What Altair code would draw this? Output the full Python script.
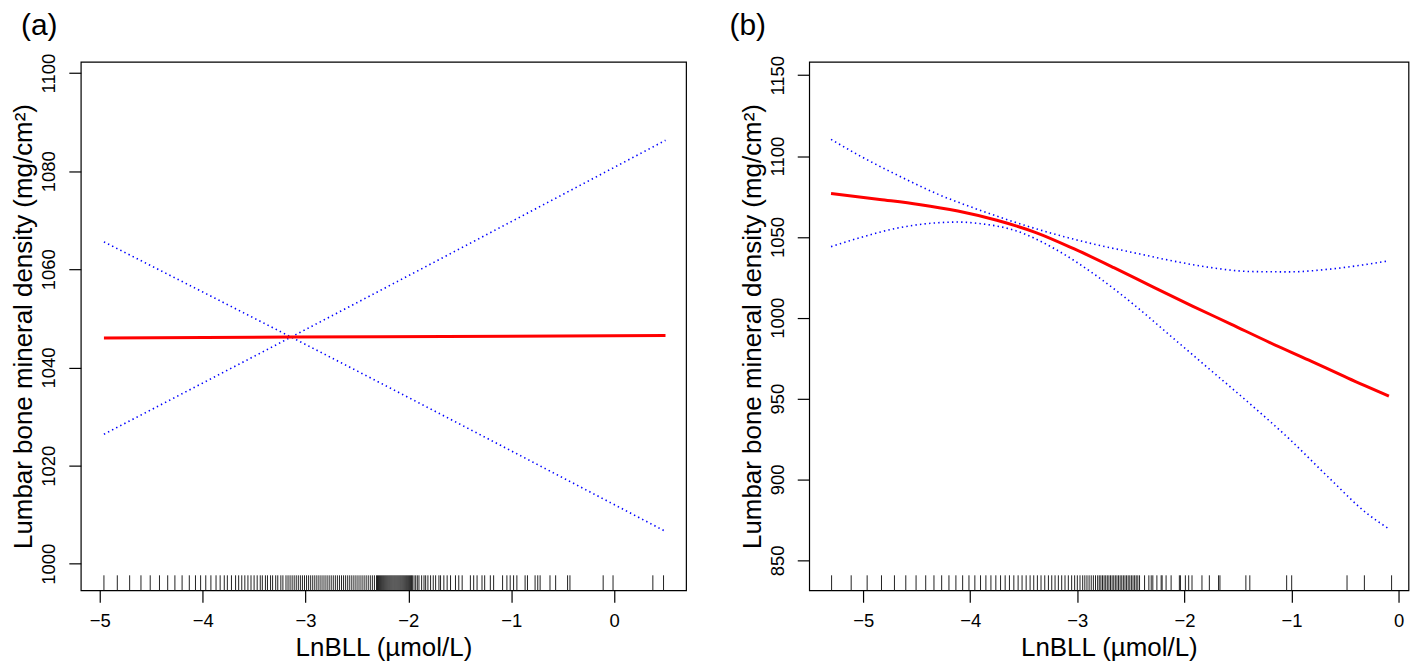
import altair as alt
import pandas as pd

# ---------------- Panel (a) ----------------
a_x = [-4.96, -3.14, 0.50]
a_fit = [1046.0, 1046.2, 1046.5]
a_ci_rise = [1026.4, 1046.2, 1086.3]
a_ci_fall = [1065.6, 1046.2, 1006.6]

a_rug = [-4.96, -4.83, -4.71, -4.60, -4.51, -4.42, -4.34, -4.27, -4.20, -4.13,
         -4.07, -4.02, -3.97, -3.92, -3.87, -3.83, -3.79, -3.76, -3.72, -3.68,
         -3.65, -3.62, -3.59, -3.56, -3.53, -3.50, -3.47, -3.44, -3.42, -3.39,
         -3.37, -3.34, -3.32, -3.29, -3.27, -3.24, -3.22, -3.19, -3.17, -3.15,
         -3.13, -3.11, -3.09, -3.07, -3.05, -3.03, -3.01, -2.99, -2.97, -2.95,
         -2.93, -2.91, -2.89, -2.87, -2.85, -2.83, -2.81, -2.79, -2.77, -2.75,
         -2.73, -2.71, -2.69, -2.67, -2.65, -2.63, -2.61, -2.59, -2.57, -2.55,
         -2.53, -2.51, -2.49, -2.47, -2.45, -2.43, -2.41, -2.39, -2.37, -2.35,
         -2.33, -2.31, -2.30, -2.29, -2.28, -2.27, -2.26, -2.25, -2.24, -2.23,
         -2.22, -2.21, -2.20, -2.19, -2.18, -2.17, -2.16, -2.15, -2.14, -2.13,
         -2.12, -2.11, -2.10, -2.09, -2.08, -2.07, -2.06, -2.05, -2.04, -2.03,
         -2.02, -2.01, -2.00, -1.99, -1.98, -1.97, -1.961, -1.945, -1.929, -1.913,
         -1.897, -1.871, -1.848, -1.832, -1.810, -1.784, -1.758, -1.735, -1.703,
         -1.687, -1.655, -1.623, -1.590, -1.542, -1.510, -1.477, -1.397, -1.365,
         -1.332, -1.284, -1.258, -1.203, -1.171, -1.084, -1.042, -1.010, -0.977,
         -0.945, -0.865, -0.842, -0.768, -0.742, -0.719, -0.623, -0.568, -0.452,
         -0.429, -0.106, -0.010, 0.377, 0.481]

a_xticks = [-5, -4, -3, -2, -1, 0]
a_yticks = [1000, 1020, 1040, 1060, 1080, 1100]

# ---------------- Panel (b) ----------------
b_fit_x = [-5.30, -4.845, -4.48, -4.116, -3.752, -3.387, -3.023, -2.659,
           -2.295, -1.930, -1.566, -1.202, -0.837, -0.473, -0.09]
b_fit = [1076.9, 1073.2, 1070.1, 1066.0, 1060.3, 1052.7, 1042.4, 1031.0,
         1019.1, 1007.4, 996.1, 984.7, 973.8, 962.7, 951.6]

b_up_x = [-5.30, -5.027, -4.662, -4.298, -3.934, -3.569, -3.205, -2.841,
          -2.477, -2.112, -1.748, -1.384, -1.019, -0.655, -0.291, -0.09]
b_up = [1110.3, 1100.0, 1087.6, 1076.3, 1067.1, 1058.8, 1051.6, 1045.5,
        1040.3, 1035.2, 1031.0, 1028.6, 1028.4, 1030.0, 1033.1, 1035.2]

b_lo_x = [-5.30, -5.027, -4.662, -4.298, -4.116, -3.934, -3.569, -3.205,
          -2.841, -2.477, -2.112, -1.748, -1.384, -1.019, -0.655, -0.291, -0.09]
b_lo = [1044.0, 1049.6, 1055.7, 1058.8, 1059.2, 1058.4, 1053.7, 1042.4,
        1026.9, 1008.4, 987.8, 967.2, 946.6, 925.0, 901.4, 878.8, 869.5]

b_rug = [-5.295, -5.112, -4.963, -4.829, -4.708, -4.602, -4.506, -4.416,
         -4.339, -4.267, -4.199, -4.134, -4.071, -4.012, -3.957, -3.904,
         -3.854, -3.807, -3.761, -3.717, -3.674, -3.634, -3.593, -3.553,
         -3.516, -3.478, -3.441, -3.407, -3.373, -3.339, -3.304, -3.270,
         -3.239, -3.208, -3.177, -3.146, -3.115, -3.084, -3.053, -3.025,
         -3.000, -2.975, -2.950, -2.930, -2.910, -2.890, -2.870, -2.850,
         -2.830, -2.810, -2.795, -2.780, -2.765, -2.750, -2.735, -2.720,
         -2.705, -2.690, -2.675, -2.660, -2.645, -2.630, -2.615, -2.600,
         -2.585, -2.570, -2.555, -2.540, -2.525, -2.510, -2.495, -2.480,
         -2.465, -2.450, -2.435, -2.419, -2.372, -2.332, -2.310, -2.295,
         -2.257, -2.217, -2.208, -2.171, -2.124, -2.047, -2.037, -1.991,
         -1.960, -1.929, -1.836, -1.767, -1.681, -1.668, -1.426, -1.389,
         -1.045, -0.998, -0.481, -0.319, -0.065]

b_xticks = [-5, -4, -3, -2, -1, 0]
b_yticks = [850, 900, 950, 1000, 1050, 1100, 1150]

Y_TITLE = "Lumbar bone mineral density (mg/cm²)"
X_TITLE = "LnBLL (µmol/L)"
FONT = "Liberation Sans"


def make_panel(fit_x, fit_y, ci_parts, rug, xdom, ydom, xticks, yticks,
               w, h, label, label_dx):
    xs = alt.Scale(domain=xdom, nice=False, zero=False)
    ys = alt.Scale(domain=ydom, nice=False, zero=False)
    xaxis = alt.Axis(values=xticks, title=X_TITLE, labelPadding=9,
                     titlePadding=5, labelFlush=False, labelOverlap=False)
    yaxis = alt.Axis(values=yticks, title=Y_TITLE, format="d", labelAngle=270,
                     labelAlign="center", labelBaseline="bottom",
                     labelPadding=10, titlePadding=3, labelFlush=False,
                     labelOverlap=False)
    X = alt.X("x:Q", scale=xs, axis=xaxis)
    Y = alt.Y("y:Q", scale=ys, axis=yaxis)

    fit_df = pd.DataFrame({"x": fit_x, "y": fit_y})
    ci_rows = []
    for name, xs_, ys_ in ci_parts:
        for xv, yv in zip(xs_, ys_):
            ci_rows.append({"x": xv, "y": yv, "band": name})
    ci_df = pd.DataFrame(ci_rows)
    rug_df = pd.DataFrame({"x": rug})

    rug_layer = alt.Chart(rug_df).mark_rule(color="#222222", strokeWidth=1).encode(
        x=X, y=alt.value(h - 15), y2=alt.value(h))
    ci_layer = alt.Chart(ci_df).mark_line(
        color="#0000ff", strokeWidth=1.6, strokeDash=[1.4, 3.2],
        interpolate="monotone").encode(x=X, y=Y, detail="band:N")
    fit_layer = alt.Chart(fit_df).mark_line(
        color="#ff0000", strokeWidth=3, interpolate="monotone").encode(x=X, y=Y)
    lab_layer = alt.Chart(pd.DataFrame({"t": [label]})).mark_text(
        font=FONT, fontSize=30, align="left", baseline="middle",
        color="black").encode(text="t:N", x=alt.value(label_dx), y=alt.value(-36))
    return alt.layer(rug_layer, ci_layer, fit_layer, lab_layer).properties(
        width=w, height=h)


pa = make_panel(a_x, a_fit,
                [("rise", a_x, a_ci_rise), ("fall", a_x, a_ci_fall)],
                a_rug, [-5.185, 0.70], [994.6, 1102.3], a_xticks, a_yticks,
                607, 530, "(a)", -60)
pb = make_panel(b_fit_x, b_fit,
                [("up", b_up_x, b_up), ("lo", b_lo_x, b_lo)],
                b_rug, [-5.504, 0.093], [831.5, 1158.3], b_xticks, b_yticks,
                601, 530, "(b)", -80)

chart = alt.hconcat(pa, pb, spacing=41.5).properties(
    padding={"left": 2, "top": 1, "right": 0, "bottom": 0}
).configure_view(
    stroke="black", strokeWidth=1.2
).configure_axis(
    labelFont=FONT, titleFont=FONT, labelFontSize=18.5, titleFontSize=26,
    titleFontWeight="normal", labelColor="black", titleColor="black",
    tickColor="black", tickSize=12, tickWidth=1.2, domain=False, grid=False
)

chart.save("out.html", embed_options={"renderer": "svg", "actions": False})
